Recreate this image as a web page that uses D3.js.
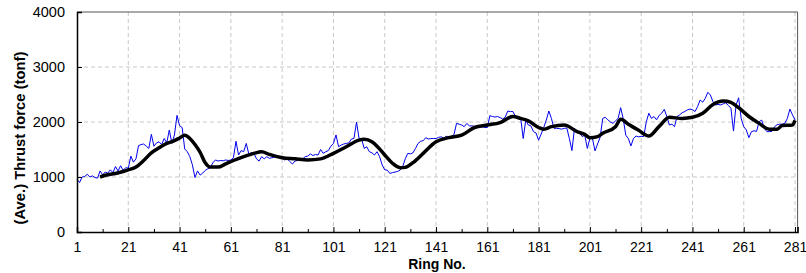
<!DOCTYPE html>
<head>
  <meta charset="utf-8">
  <script src="https://d3js.org/d3.v7.min.js"></script>
  <style>
    body { margin:0; background:#fff; }
    text { font-family: "Liberation Sans", Arial, sans-serif; }
  </style>
</head>
<body>
<script>
// raw thrust per ring (rings 1..281)
var thrust = [
  960, 900, 1000, 1010, 1050, 1000, 1020, 990, 980, 1110,
  1040, 1090, 1070, 1130, 1080, 1190, 1110, 1205, 1120, 1170,
  1160, 1380, 1270, 1330, 1570, 1590, 1600, 1560, 1520, 1775,
  1560, 1620, 1640, 1590, 1700, 1620, 1855, 1610, 1765, 2120,
  1935, 1900, 1510, 1460, 1370, 1220, 990, 1110, 1035, 1070,
  1120, 1150, 1170, 1260, 1310, 1290, 1300, 1295, 1310, 1300,
  1310, 1350, 1650, 1400, 1480, 1460, 1610, 1420, 1440, 1430,
  1330, 1290, 1370, 1330, 1370, 1340, 1350, 1360, 1390, 1340,
  1340, 1310, 1330, 1280, 1235, 1290, 1300, 1310, 1330, 1370,
  1380, 1420, 1390, 1410, 1400, 1500, 1430, 1460, 1480, 1560,
  1610, 1765, 1550, 1580, 1600, 1610, 1620, 1690, 1700, 2000,
  1700, 1690, 1520, 1550, 1460, 1440, 1400, 1460, 1370, 1220,
  1130, 1125, 1065, 1080, 1090, 1100, 1125, 1190, 1330, 1430,
  1420, 1440, 1520, 1610, 1650, 1660, 1715, 1690, 1700, 1700,
  1700, 1720, 1730, 1710, 1740, 1720, 1740, 1770, 1975, 1960,
  1945, 1915, 1975, 1930, 1930, 1920, 1920, 1910, 1915, 1900,
  1900, 2115, 2100, 2090, 2100, 2080, 2055, 2090, 2200, 2190,
  2190, 2100, 2090, 2075, 1700, 2035, 1945, 1930, 1825, 1800,
  1670, 1780, 1900, 2035, 2200, 2065, 1885, 1885, 1880, 1870,
  1885, 1890, 1700, 1480, 1885, 1830, 1800, 1735, 1760, 1520,
  1700, 1700, 1475, 1600, 1720, 2065, 2085, 2040, 2000, 1975,
  2020, 2065, 2260, 2060, 1760, 1700, 1565, 1700, 1745, 1730,
  1740, 1735, 2005, 2160, 2065, 2100, 2040, 2120, 2160, 2230,
  2100, 1945, 1960, 1915, 2100, 2130, 2170, 2190, 2220, 2235,
  2225, 2190, 2280, 2400, 2360, 2430, 2540, 2490, 2370, 2310,
  2320, 2310, 2330, 2350, 2300, 2250, 1835, 2310, 2440, 2065,
  1915, 1855, 1715, 1825, 1840, 1830, 2005, 2035, 1885, 1825,
  1825, 1830, 1915, 1950, 1960, 1960, 1975, 2065, 2235, 2130,
  2035
];

// averaged thrust (ring, value)
var avgRing = [10, 13, 16, 19, 21, 24, 27, 30, 33, 36, 39, 41, 43, 45, 47, 49, 51, 53, 56, 59,
  62, 66, 70, 73, 76, 81, 86, 91, 96, 101, 106, 111, 113, 116, 118, 121, 124, 127, 129, 132,
  136, 141, 146, 151, 156, 161, 166, 171, 174, 177, 181, 183, 186, 191, 196, 199, 201, 204, 206, 211,
  213, 216, 220, 224, 228, 232, 237, 241, 245, 249, 253, 256, 259, 263, 267, 271, 274, 276, 280, 281];
var avgVal = [1000, 1040, 1065, 1100, 1130, 1180, 1300, 1440, 1530, 1610, 1660, 1710, 1760, 1700, 1590, 1450, 1260, 1180, 1180, 1240,
  1300, 1370, 1430, 1460, 1410, 1350, 1330, 1310, 1330, 1430, 1550, 1670, 1685, 1640, 1560, 1400, 1250, 1170, 1175, 1260,
  1430, 1640, 1715, 1760, 1900, 1945, 1990, 2100, 2065, 2020, 1900, 1870, 1915, 1945, 1825, 1775, 1715, 1735, 1795, 1915,
  2050, 1960, 1850, 1745, 1920, 2085, 2065, 2085, 2160, 2320, 2380, 2355, 2260, 2100, 1975, 1870, 1870, 1935, 1945, 2030];

var xTicks = [1, 21, 41, 61, 81, 101, 121, 141, 161, 181, 201, 221, 241, 261, 281];
var xMinor = [11, 31, 51, 71, 91, 111, 131, 151, 171, 191, 211, 231, 251, 271];
var yTicks = [0, 1000, 2000, 3000, 4000];

var width = 806, height = 273;
var pL = 77, pR = 797.6, pT = 12, pB = 232;

var svg = d3.select("body").append("svg")
  .attr("width", width)
  .attr("height", height);

var x = d3.scaleLinear().domain([1, 282]).range([pL, pR]);
var y = d3.scaleLinear().domain([0, 4000]).range([pB, pT]);

// grid
svg.append("g").selectAll("line")
  .data(xTicks.slice(1))
  .enter().append("line")
  .attr("x1", d => x(d)).attr("x2", d => x(d))
  .attr("y1", pT).attr("y2", pB)
  .attr("stroke", "#c8c8c8").attr("stroke-dasharray", "4,3");
svg.append("g").selectAll("line")
  .data(yTicks.slice(1, 4))
  .enter().append("line")
  .attr("x1", pL).attr("x2", pR)
  .attr("y1", d => y(d)).attr("y2", d => y(d))
  .attr("stroke", "#c8c8c8").attr("stroke-dasharray", "4,3");

// frame top/right
svg.append("path")
  .attr("d", "M" + pL + "," + pT + "H" + pR + "V" + pB)
  .attr("fill", "none").attr("stroke", "#555").attr("stroke-width", 1);

// raw line
svg.append("path")
  .datum(thrust)
  .attr("fill", "none")
  .attr("stroke", "#0000ee")
  .attr("stroke-width", 1)
  .attr("d", d3.line().x((d, i) => x(i + 1)).y(d => y(d)));

// averaged line
svg.append("path")
  .datum(avgRing.map((r, i) => [r, avgVal[i]]))
  .attr("fill", "none")
  .attr("stroke", "#000")
  .attr("stroke-width", 3.5)
  .attr("stroke-linejoin", "round")
  .attr("d", d3.line().curve(d3.curveMonotoneX).x(d => x(d[0])).y(d => y(d[1])));

// axes (ticks inside)
var xAxis = svg.append("g")
  .attr("transform", "translate(0," + pB + ")")
  .call(d3.axisBottom(x).tickValues(xTicks).tickSize(-5).tickPadding(10).tickFormat(d3.format("d")));
svg.append("g")
  .attr("transform", "translate(0," + pB + ")")
  .call(d3.axisBottom(x).tickValues(xMinor).tickSize(-3).tickFormat(""))
  .call(g => g.select(".domain").remove());
var yAxis = svg.append("g")
  .attr("transform", "translate(" + pL + ",0)")
  .call(d3.axisLeft(y).tickValues(yTicks).tickSize(-5).tickPadding(12).tickFormat(d3.format("d")));

svg.selectAll(".domain").attr("stroke", "#000").attr("stroke-width", 1.5);
svg.selectAll(".tick line").attr("stroke", "#000");
xAxis.attr("font-family", null).attr("font-size", null);
yAxis.attr("font-family", null).attr("font-size", null);
xAxis.selectAll("text").style("font-size", "14px").attr("fill", "#000");
yAxis.selectAll("text").style("font-size", "14.5px").attr("fill", "#000");

svg.append("text")
  .attr("x", 437).attr("y", 269)
  .attr("text-anchor", "middle")
  .style("font-size", "14px").attr("font-weight", "bold")
  .text("Ring No.");

svg.append("text")
  .attr("transform", "translate(25,138) rotate(-90)")
  .attr("text-anchor", "middle")
  .style("font-size", "14.8px").attr("font-weight", "bold")
  .text("(Ave.) Thrust force (tonf)");
</script>
</body>
